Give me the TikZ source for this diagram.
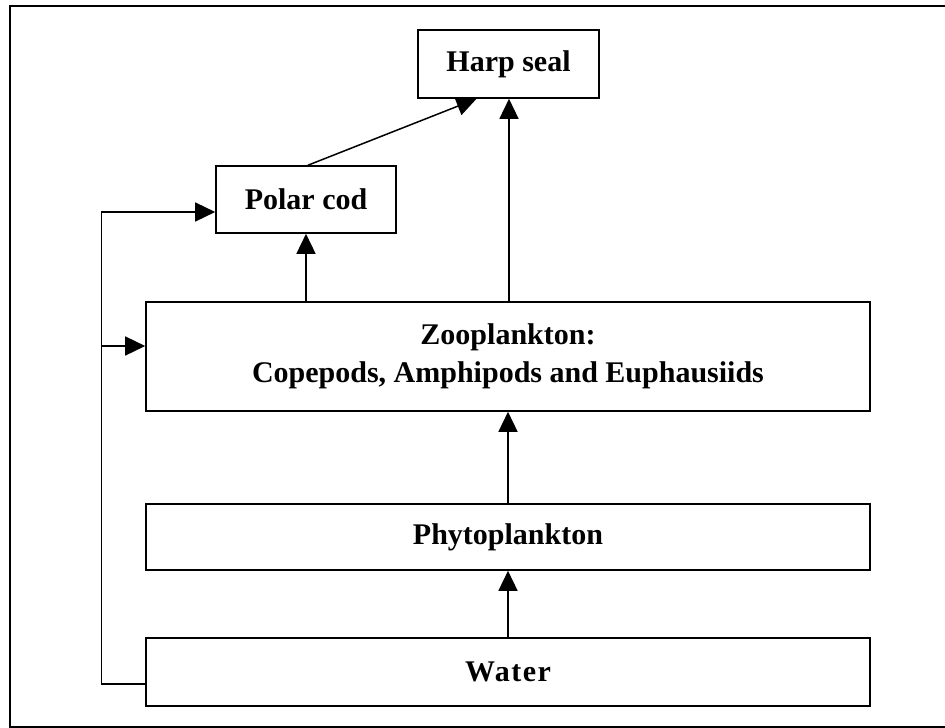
\documentclass[tikz,border=0pt]{standalone}
\usepackage{fontspec}
\setmainfont{Liberation Serif}
\usetikzlibrary{arrows.meta,calc}
\begin{document}
\begin{tikzpicture}[x=1pt,y=-1pt,
  box/.style={draw,line width=1.6pt,inner sep=0pt,font=\bfseries\fontsize{30}{38}\selectfont,align=center},
  conn/.style={line width=1.5pt},
  arr/.style={conn,-{Triangle[length=20pt 0,width=19pt 0]}}]
\useasboundingbox (0,0) rectangle (945,728);
% outer frame (right side lies beyond the picture)
\draw[line width=2pt] (960,6) -- (10,6) -- (10,727) -- (960,727);
% boxes
\node[box,minimum width=181pt,minimum height=68pt] (hs) at (508.5,64) {Harp seal};
\node[box,minimum width=180pt,minimum height=67pt] (pc) at (306,199.5) {Polar cod};
\node[box,minimum width=724pt,minimum height=109pt] (zoo) at (508,356.5) {Zooplankton:\\Copepods, Amphipods and Euphausiids};
\node[box,minimum width=724pt,minimum height=66pt] (phy) at (508,537) {Phytoplankton};
\node[box,minimum width=724pt,minimum height=68pt] (wat) at (508,672) {\addfontfeatures{LetterSpace=5}Water};
% connectors
\draw[arr] ([xshift=2pt]pc.north) -- ([xshift=-32pt]hs.south);
\draw[arr] ([xshift=0.5pt]hs.south |- zoo.north) -- ([xshift=0.5pt]hs.south);
\draw[arr] (pc.south |- zoo.north) -- (pc.south);
\draw[arr] (phy.north) -- (zoo.south);
\draw[arr] (wat.north) -- (phy.south);
% feedback line from water
\coordinate (fbx) at (101.7,0);
\coordinate (wj) at ([yshift=-12pt]wat.west);
\coordinate (pj) at ([yshift=-12.5pt]pc.west);
\coordinate (zj) at ([yshift=10.5pt]zoo.west);
\draw[arr] (wj) -- (wj -| fbx) -- (pj -| fbx) -- (pj);
\draw[arr] (zj -| fbx) -- (zj);
\end{tikzpicture}
\end{document}
